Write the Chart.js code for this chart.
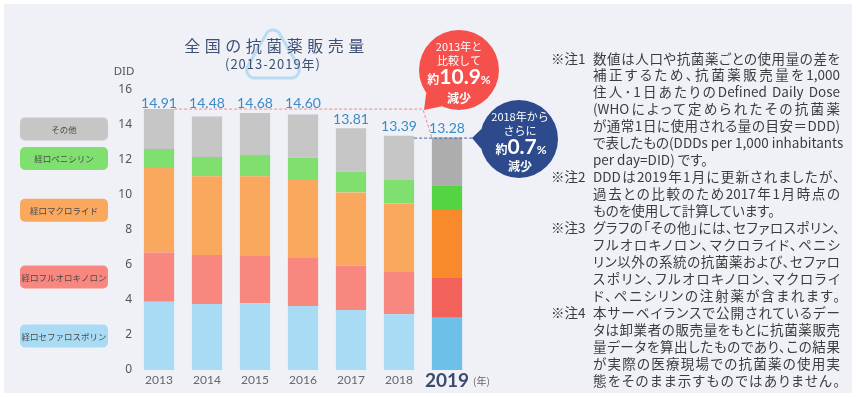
<!DOCTYPE html>
<html lang="ja">
<head>
<meta charset="utf-8">
<script src="https://cdn.jsdelivr.net/npm/chart.js@4"></script>
<style>
    body { margin: 0; width: 856px; height: 397px; overflow: hidden; position: relative; background: #fff; font-family: "Noto Sans CJK JP", "Noto Sans", sans-serif; }
    #panel { position: absolute; left: 4px; top: 4px; width: 848px; height: 389px; background: #eff1f7; }
    #chart { position: absolute; left: 0; top: 0; }
    .title { position: absolute; left: 152px; width: 240px; text-align: center; color: #3e5075; white-space: nowrap; z-index: 2; }
    .note { position: absolute; white-space: nowrap; font-size: 13.5px; line-height: 17px; color: #3c3c3c; }
    .body-line { left: 593px; width: 247px; text-align: justify; text-align-last: justify; font-feature-settings: "palt"; }
    .body-line.last { text-align-last: left; }
</style>
</head>
<body>
<div id="panel"></div>
<canvas id="chart" width="856" height="397"></canvas>
<div class="title" style="top:33px;font-size:16px;letter-spacing:4.5px;padding-left:4.5px;">全国の抗菌薬販売量</div>
<div class="title" style="top:54px;font-size:13px;letter-spacing:1px;padding-left:1px;">(2013-2019年)</div>
<div id="notes"></div>
<script>
// Data (DID = DDDs per 1,000 inhabitants per day)
const years = ['2013', '2014', '2015', '2016', '2017', '2018', '2019'];
const seriesNames = ['経口セファロスポリン', '経口フルオロキノロン', '経口マクロライド', '経口ペニシリン', 'その他'];
const cephalosporin   = [3.90, 3.77, 3.81, 3.66, 3.43, 3.18, 2.99];
const fluoroquinolone = [2.82, 2.80, 2.70, 2.74, 2.53, 2.42, 2.31];
const macrolide       = [4.82, 4.50, 4.56, 4.51, 4.19, 3.92, 3.84];
const penicillin      = [1.09, 1.10, 1.22, 1.22, 1.18, 1.34, 1.41];
const other           = [2.28, 2.31, 2.39, 2.47, 2.48, 2.53, 2.73];
const totals          = [14.91, 14.48, 14.68, 14.60, 13.81, 13.39, 13.28];
const yMin = 0, yMax = 16, yStep = 2;

const lightColors = ['#a9dcf4', '#f7877f', '#fba85f', '#7fe06f', '#c6c6c6'];
const darkColors  = ['#6cc0ea', '#f2625a', '#f98a2c', '#55d443', '#adadad'];

const notes = [
    ['※注1', ['数値は人口や抗菌薬ごとの使用量の差を',
              '補正するため、抗菌薬販売量を1,000',
              '住人･1日あたりのDefined Daily Dose',
              '(WHOによって定められたその抗菌薬',
              'が通常1日に使用される量の目安＝DDD)',
              'で表したもの(DDDs per 1,000 inhabitants',
              'per day=DID) です。']],
    ['※注2', ['DDDは2019年1月に更新されましたが、',
              '過去との比較のため2017年1月時点の',
              'ものを使用して計算しています。']],
    ['※注3', ['グラフの｢その他｣には、セファロスポリン、',
              'フルオロキノロン、マクロライド、ペニシ',
              'リン以外の系統の抗菌薬および、セファロ',
              'スポリン、フルオロキノロン、マクロライ',
              'ド、ペニシリンの注射薬が含まれます。']],
    ['※注4', ['本サーベイランスで公開されているデー',
              'タは卸業者の販売量をもとに抗菌薬販売',
              '量データを算出したものであり、この結果',
              'が実際の医療現場での抗菌薬の使用実',
              '態をそのまま示すものではありません。']]
];

// notes column
(function() {
    const box = document.getElementById('notes');
    let line = 0;
    notes.forEach(([head, lines], n) => {
        const top = 58 - 8.5 + line * 16.95;
        box.insertAdjacentHTML('beforeend', `<div class="note" style="left:551px;top:${top}px">${head}</div>`);
        lines.forEach((text, k) => {
            const isLast = k === lines.length - 1 && n < 2;
            box.insertAdjacentHTML('beforeend',
                `<div class="note body-line${isLast ? ' last' : ''}" style="top:${58 - 8.5 + line * 16.95}px">${text}</div>`);
            line++;
        });
    });
})();

function roundRect(ctx, x, y, w, h, r) {
    ctx.beginPath();
    ctx.moveTo(x + r, y);
    ctx.arcTo(x + w, y, x + w, y + h, r);
    ctx.arcTo(x + w, y + h, x, y + h, r);
    ctx.arcTo(x, y + h, x, y, r);
    ctx.arcTo(x, y, x + w, y, r);
    ctx.closePath();
}

// draws a line made of pieces [text, font, color]
function drawPieces(ctx, cx, cy, pieces) {
    let total = 0;
    pieces.forEach(p => { ctx.font = p[1]; total += ctx.measureText(p[0]).width; });
    let x = cx - total / 2;
    ctx.textAlign = 'left';
    ctx.textBaseline = 'alphabetic';
    pieces.forEach(p => {
        ctx.font = p[1];
        ctx.fillStyle = p[2];
        ctx.fillText(p[0], x, cy);
        x += ctx.measureText(p[0]).width;
    });
}

function callout(ctx, cx, cy, r, tip, a1, a2, color) {
    ctx.fillStyle = color;
    ctx.beginPath();
    ctx.arc(cx, cy, r, 0, Math.PI * 2);
    ctx.fill();
    ctx.beginPath();
    ctx.moveTo(cx + r * Math.cos(a1), cy + r * Math.sin(a1));
    ctx.lineTo(tip[0], tip[1]);
    ctx.lineTo(cx + r * Math.cos(a2), cy + r * Math.sin(a2));
    ctx.closePath();
    ctx.fill();
}

const JP = '"Noto Sans CJK JP", sans-serif';
const NUM = 'Lato, "Noto Sans", sans-serif';

const decor = {
    id: 'decor',
    beforeDraw(chart) {
        const ctx = chart.ctx;
        // faint triangle behind the title
        ctx.save();
        ctx.strokeStyle = 'rgba(150, 205, 236, 0.6)';
        ctx.lineWidth = 3;
        const A = [273, 22], B = [305, 78], C = [241, 78];
        ctx.beginPath();
        ctx.moveTo((A[0] + C[0]) / 2, (A[1] + C[1]) / 2);
        ctx.arcTo(A[0], A[1], B[0], B[1], 8);
        ctx.arcTo(B[0], B[1], C[0], C[1], 8);
        ctx.arcTo(C[0], C[1], A[0], A[1], 8);
        ctx.closePath();
        ctx.stroke();
        ctx.restore();
    },
    afterDatasetsDraw(chart) {
        const ctx = chart.ctx;
        const xs = chart.scales.x, ys = chart.scales.y;
        const last = years.length - 1;
        const topMeta = chart.getDatasetMeta(seriesNames.length - 1);
        ctx.save();

        // legend boxes, centred on the first bar's segments
        seriesNames.forEach((name, i) => {
            const el = chart.getDatasetMeta(i).data[0];
            const mid = (el.y + el.base) / 2;
            ctx.fillStyle = lightColors[i];
            roundRect(ctx, 20, mid - 11.5, 88, 23, 5);
            ctx.fill();
            ctx.fillStyle = '#4a4a4a';
            ctx.font = '8.5px ' + JP;
            ctx.textAlign = 'center';
            ctx.textBaseline = 'middle';
            ctx.fillText(name, 64, mid + 0.5);
        });

        // unit
        ctx.fillStyle = '#555';
        ctx.font = '11.5px "Noto Sans", sans-serif';
        ctx.textAlign = 'center';
        ctx.textBaseline = 'middle';
        ctx.fillText('DID', 124, 72);

        // dashed reference lines
        const refY = ys.getPixelForValue(totals[0]);
        const first = topMeta.data[0], lastBar = topMeta.data[last], prevBar = topMeta.data[last - 1];
        const lastLeft = lastBar.x - lastBar.width / 2;
        const lastTop = ys.getPixelForValue(totals[last]);
        ctx.lineWidth = 1;
        ctx.setLineDash([3, 2]);
        ctx.strokeStyle = '#ee8b8b';
        ctx.beginPath();
        ctx.moveTo(first.x + first.width / 2, refY);
        ctx.lineTo(lastLeft - 9, refY);
        ctx.lineTo(lastLeft, lastTop);
        ctx.stroke();
        ctx.strokeStyle = '#46609a';
        ctx.beginPath();
        ctx.moveTo(prevBar.x + prevBar.width / 2, lastTop + 0.5);
        ctx.lineTo(476, lastTop + 0.5);
        ctx.stroke();
        ctx.setLineDash([]);

        // total labels
        ctx.fillStyle = '#3a8bc6';
        ctx.font = '14px ' + NUM;
        ctx.textAlign = 'center';
        ctx.textBaseline = 'middle';
        totals.forEach((t, i) => {
            const x = xs.getPixelForValue(i);
            const y = t > 14.2 ? refY - 6 : ys.getPixelForValue(t) - 9;
            ctx.fillText(t.toFixed(2), x, y);
        });

        // year labels
        years.forEach((yr, i) => {
            const x = xs.getPixelForValue(i);
            const y = chart.chartArea.bottom + 10;
            ctx.textAlign = 'center';
            ctx.textBaseline = 'middle';
            if (i === last) {
                ctx.font = 'bold 19px ' + NUM;
                ctx.fillStyle = '#3b4a6b';
                ctx.fillText(yr, x, y + 1);
                const w = ctx.measureText(yr).width;
                ctx.font = '10px ' + JP;
                ctx.fillStyle = '#666';
                ctx.textAlign = 'left';
                ctx.fillText('(年)', x + w / 2 + 4, y + 1);
            } else {
                ctx.font = '12px ' + NUM;
                ctx.fillStyle = '#666';
                ctx.fillText(yr, x, y);
            }
        });

        // callouts
        callout(ctx, 459, 70, 40, [424, 110], Math.PI * 115 / 180, Math.PI * 145 / 180, '#f5504b');
        ctx.textAlign = 'center';
        ctx.fillStyle = '#fff';
        ctx.font = '11px ' + JP;
        ctx.textBaseline = 'middle';
        ctx.fillText('2013年と', 459, 47);
        ctx.fillText('比較して', 459, 61);
        drawPieces(ctx, 459, 84, [['約', 'bold 12px ' + JP, '#fff'], ['10.9', 'bold 21px ' + NUM, '#fff'], ['%', 'bold 12px ' + NUM, '#fff']]);
        ctx.font = 'bold 12px ' + JP;
        ctx.textAlign = 'center';
        ctx.textBaseline = 'middle';
        ctx.fillText('減少', 459, 98);

        callout(ctx, 519, 139, 39, [472, 138], Math.PI * 165 / 180, Math.PI * 195 / 180, '#2c4a8c');
        ctx.fillStyle = '#fff';
        ctx.font = '11px ' + JP;
        ctx.textAlign = 'center';
        ctx.textBaseline = 'middle';
        ctx.fillText('2018年から', 520, 117);
        ctx.fillText('さらに', 520, 131);
        drawPieces(ctx, 521, 154, [['約', 'bold 12px ' + JP, '#fff'], ['0.7', 'bold 21px ' + NUM, '#fff'], ['%', 'bold 12px ' + NUM, '#fff']]);
        ctx.font = 'bold 12px ' + JP;
        ctx.textAlign = 'center';
        ctx.textBaseline = 'middle';
        ctx.fillText('減少', 520, 166);

        ctx.restore();
    }
};

const seriesData = [cephalosporin, fluoroquinolone, macrolide, penicillin, other];

new Chart(document.getElementById('chart'), {
    type: 'bar',
    data: {
        labels: years,
        datasets: seriesData.map((values, i) => ({
            label: seriesNames[i],
            data: values,
            backgroundColor: years.map((y, j) => j === years.length - 1 ? darkColors[i] : lightColors[i]),
            borderWidth: 0,
            barPercentage: 0.63,
            categoryPercentage: 1
        }))
    },
    options: {
        responsive: false,
        animation: false,
        devicePixelRatio: 1,
        layout: { padding: { top: 90, left: 100, right: 385, bottom: 0 } },
        plugins: { legend: { display: false }, tooltip: { enabled: false } },
        scales: {
            x: {
                stacked: true,
                grid: { display: false, drawTicks: false },
                border: { display: false },
                ticks: { display: false },
                afterFit(scale) { scale.height = 27; }
            },
            y: {
                stacked: true,
                min: yMin,
                max: yMax,
                ticks: { stepSize: yStep, color: '#555', padding: 3, font: { family: '"Noto Sans", sans-serif', size: 12 } },
                grid: { display: false, drawTicks: false },
                border: { display: false },
                afterFit(scale) { scale.width = 35; }
            }
        }
    },
    plugins: [decor]
});
</script>
</body>
</html>
